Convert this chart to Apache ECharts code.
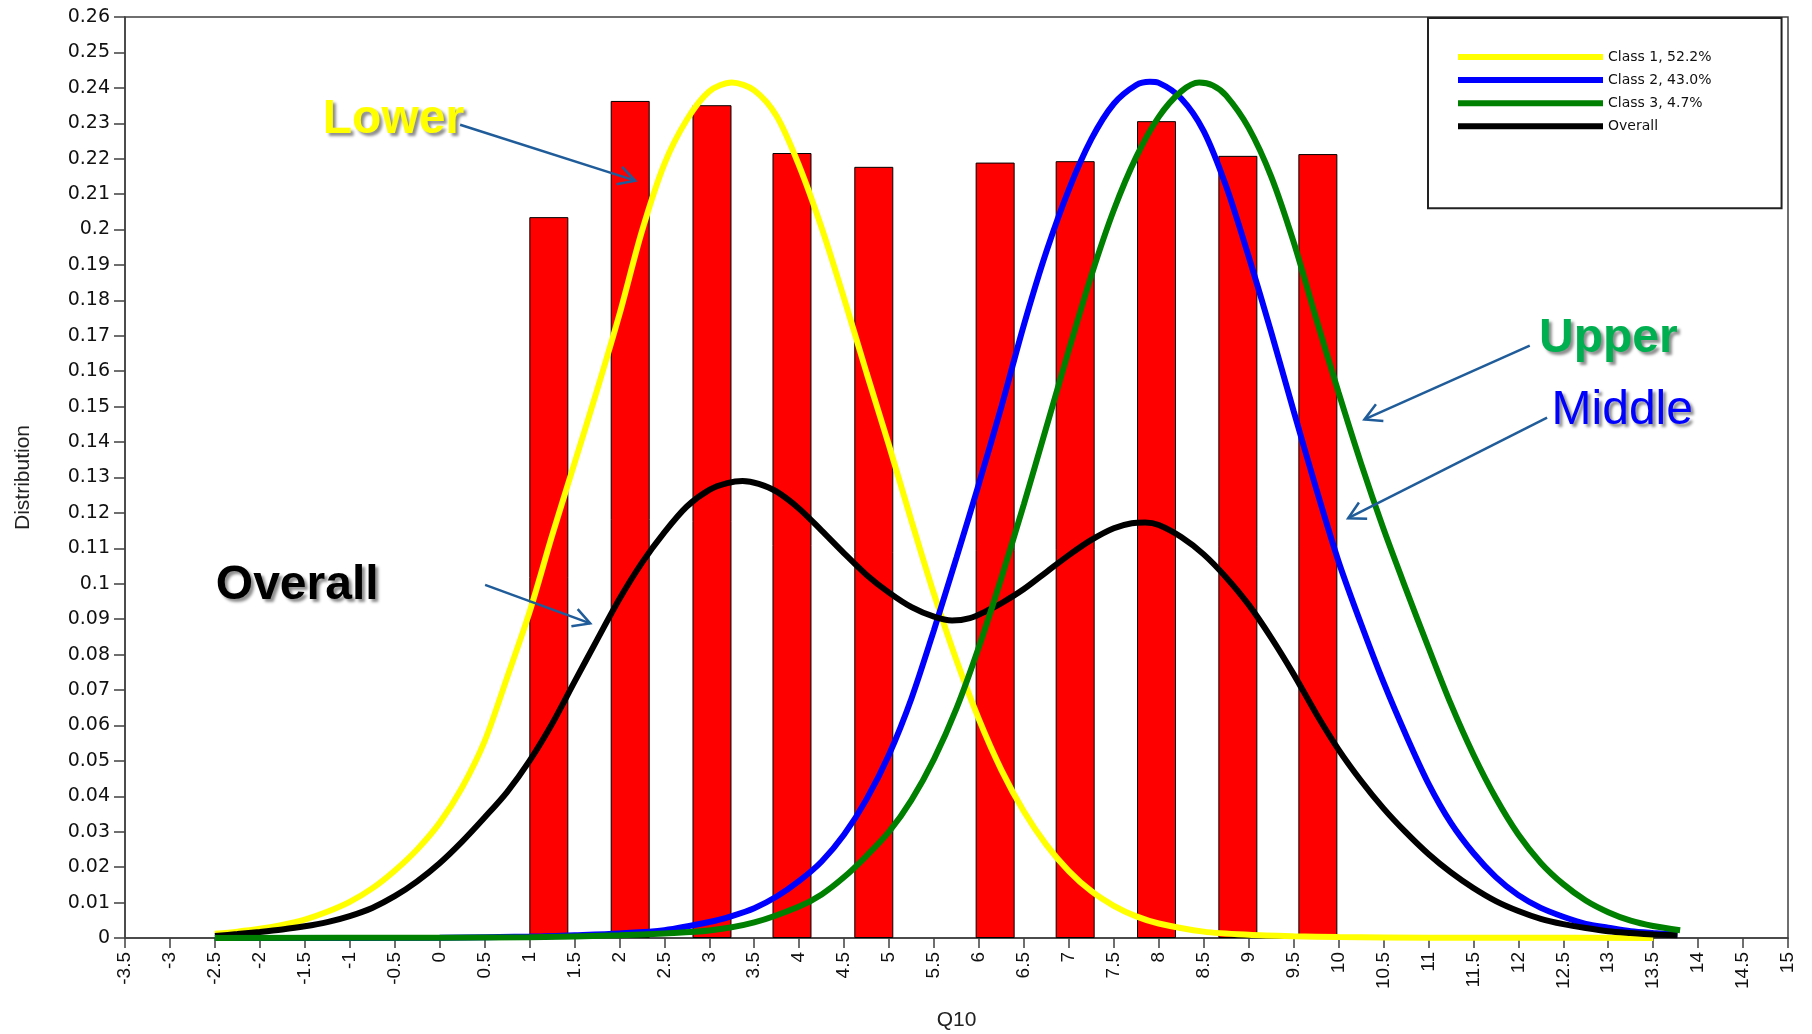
<!DOCTYPE html>
<html><head><meta charset="utf-8">
<script src="https://cdn.jsdelivr.net/npm/echarts@6/dist/echarts.min.js"></script>
<style>html,body{margin:0;padding:0;background:#fff}#c{width:1812px;height:1034px}</style>
</head><body><div id="c"></div>
<script>
// ---- data ----
const barX = [1.215, 2.12, 3.03, 3.92, 4.83, 6.18, 7.07, 7.975, 8.88, 9.77];
const barY = [0.2035, 0.2363, 0.2351, 0.2216, 0.2177, 0.2189, 0.2193, 0.2306, 0.2208, 0.2213];

const class1X = [-2.5, -2.25, -2.0, -1.75, -1.5, -1.25, -1.0, -0.75, -0.5, -0.25, 0.0, 0.25, 0.5, 0.75, 1.0, 1.25, 1.5, 1.75, 2.0, 2.25, 2.5, 2.75, 3.0, 3.25, 3.5, 3.75, 4.0, 4.25, 4.5, 4.75, 5.0, 5.25, 5.5, 5.75, 6.0, 6.25, 6.5, 6.75, 7.0, 7.25, 7.5, 7.75, 8.0, 8.5, 9.0, 9.5, 10.0, 11.0, 12.0, 13.5];
const class1Y = [0.0012, 0.0018, 0.0026, 0.0037, 0.0052, 0.0074, 0.0102, 0.014, 0.019, 0.025, 0.0325, 0.0425, 0.0555, 0.0735, 0.092, 0.1135, 0.134, 0.1545, 0.176, 0.1995, 0.2185, 0.231, 0.239, 0.2415, 0.2393, 0.232, 0.218, 0.2005, 0.1805, 0.1595, 0.139, 0.1177, 0.0971, 0.0784, 0.0617, 0.0474, 0.0357, 0.0263, 0.0189, 0.0132, 0.0091, 0.0061, 0.0041, 0.0018, 0.0009, 0.0005, 0.0003, 0.0001, 0.0001, 0];

const class2X = [-2.5, 0.0, 1.0, 1.5, 2.0, 2.5, 3.0, 3.25, 3.5, 3.75, 4.0, 4.25, 4.5, 4.75, 5.0, 5.25, 5.5, 5.75, 6.0, 6.25, 6.5, 6.75, 7.0, 7.25, 7.5, 7.75, 7.9, 8.0, 8.25, 8.5, 8.75, 9.0, 9.25, 9.5, 9.75, 10.0, 10.25, 10.5, 10.75, 11.0, 11.25, 11.5, 11.75, 12.0, 12.25, 12.5, 12.75, 13.0, 13.25, 13.5, 13.77];
const class2Y = [0, 0.0001, 0.0004, 0.0008, 0.0013, 0.0022, 0.0045, 0.0062, 0.0084, 0.0117, 0.0161, 0.0216, 0.0292, 0.0392, 0.0518, 0.0677, 0.087, 0.1074, 0.1283, 0.15, 0.1731, 0.1938, 0.2113, 0.2255, 0.2355, 0.2408, 0.2417, 0.2414, 0.237, 0.2278, 0.2122, 0.1924, 0.1711, 0.1488, 0.127, 0.1063, 0.0887, 0.0722, 0.0573, 0.0436, 0.0325, 0.024, 0.0172, 0.0121, 0.0085, 0.006, 0.004, 0.0029, 0.0019, 0.0014, 0.001];

const class3X = [-2.5, 0.0, 1.0, 2.0, 2.5, 3.0, 3.5, 4.0, 4.25, 4.5, 4.75, 5.0, 5.25, 5.5, 5.75, 6.0, 6.25, 6.5, 6.75, 7.0, 7.25, 7.5, 7.75, 8.0, 8.25, 8.45, 8.6, 8.75, 9.0, 9.25, 9.5, 9.75, 10.0, 10.25, 10.5, 10.75, 11.0, 11.25, 11.5, 11.75, 12.0, 12.25, 12.5, 12.75, 13.0, 13.25, 13.5, 13.8];
const class3Y = [0, 0.0001, 0.0002, 0.0008, 0.0013, 0.0021, 0.0044, 0.0089, 0.0123, 0.0172, 0.0232, 0.03, 0.039, 0.0505, 0.0648, 0.0822, 0.1017, 0.1225, 0.1442, 0.166, 0.187, 0.2055, 0.2205, 0.2318, 0.239, 0.2415, 0.2407, 0.2378, 0.2287, 0.215, 0.1965, 0.175, 0.154, 0.134, 0.1155, 0.0985, 0.082, 0.066, 0.0518, 0.0395, 0.0292, 0.0212, 0.0152, 0.0106, 0.0073, 0.0049, 0.0034, 0.0022];

const overallX = [-2.5, -2.25, -2.0, -1.75, -1.5, -1.25, -1.0, -0.75, -0.5, -0.25, 0.0, 0.25, 0.5, 0.75, 1.0, 1.25, 1.5, 1.75, 2.0, 2.25, 2.5, 2.75, 3.0, 3.2, 3.37, 3.55, 3.75, 4.0, 4.25, 4.5, 4.75, 5.0, 5.25, 5.5, 5.7, 5.9, 6.1, 6.25, 6.5, 6.75, 7.0, 7.25, 7.5, 7.7, 7.85, 8.0, 8.25, 8.5, 8.75, 9.0, 9.25, 9.5, 9.75, 10.0, 10.25, 10.5, 10.75, 11.0, 11.25, 11.5, 11.75, 12.0, 12.25, 12.5, 12.75, 13.0, 13.25, 13.5, 13.77];
const overallY = [0.0006, 0.0011, 0.0017, 0.0024, 0.0033, 0.0045, 0.0062, 0.0085, 0.0118, 0.016, 0.0211, 0.0272, 0.034, 0.0412, 0.05, 0.0604, 0.0723, 0.0841, 0.0957, 0.1059, 0.1145, 0.1218, 0.1265, 0.1284, 0.129, 0.1282, 0.126, 0.1212, 0.115, 0.1086, 0.1025, 0.0975, 0.0934, 0.0907, 0.0896, 0.0903, 0.0925, 0.0945, 0.0985, 0.1033, 0.1081, 0.1124, 0.1157, 0.1171, 0.1173, 0.1166, 0.1132, 0.1083, 0.1018, 0.0941, 0.0848, 0.0745, 0.0634, 0.0532, 0.0444, 0.0366, 0.0298, 0.0237, 0.0185, 0.0141, 0.0104, 0.0076, 0.0054, 0.0039, 0.0028, 0.0019, 0.0014, 0.001, 0.0008];

const seriesNames = ['Class 1, 52.2%', 'Class 2, 43.0%', 'Class 3, 4.7%', 'Overall'];
const xAxisName = 'Q10';
const yAxisName = 'Distribution';

// annotation texts and arrows (data coordinates of the plot)
const annoTexts = ['Lower', 'Overall', 'Upper', 'Middle'];
const annoTextPos = [[-1.30, 0.2311], [-2.49, 0.0993], [12.23, 0.1692], [12.37, 0.1487]];
const annoArrowFrom = [[0.228, 0.2296], [0.506, 0.0997], [12.127, 0.1672], [12.32, 0.1469]];
const annoArrowTo = [[2.176, 0.2138], [1.675, 0.0888], [10.288, 0.1464], [10.107, 0.1185]];
// ---- end data ----

const zip = (xs, ys) => xs.map((x, i) => [x, ys[i]]);
const colors = ['#ffff00', '#0000ff', '#008000', '#000000'];
const zOrder = [3, 4, 6, 5];
const curveData = [zip(class1X, class1Y), zip(class2X, class2Y), zip(class3X, class3Y), zip(overallX, overallY)];

const chart = echarts.init(document.getElementById('c'), null, {renderer: 'canvas'});
const axisColor = '#404040';
const tickFont = 'DejaVu Sans';

const option = {
  animation: false,
  backgroundColor: '#ffffff',
  grid: {left: 125, top: 17, right: 24, bottom: 96, show: true, borderColor: axisColor, borderWidth: 1.5, containLabel: false, outerBoundsMode: 'none'},
  legend: {
    data: seriesNames,
    orient: 'vertical',
    left: 1428, top: 18,
    padding: [32, 70, 75, 30],
    borderColor: '#222', borderWidth: 2,
    icon: 'rect', itemWidth: 145, itemHeight: 6, itemGap: 9.1,
    selectedMode: false,
    itemStyle: {borderWidth: 0},
    textStyle: {fontFamily: tickFont, fontSize: 14, color: '#111', lineHeight: 14}
  },
  xAxis: {
    type: 'value', min: -3.5, max: 15, interval: 0.5,
    name: xAxisName, nameLocation: 'middle', nameGap: 72,
    nameTextStyle: {fontFamily: 'Liberation Sans', fontSize: 21, color: '#222'},
    axisLine: {lineStyle: {color: axisColor, width: 1.5}},
    axisTick: {show: true, length: 10, lineStyle: {color: axisColor, width: 1.5}},
    axisLabel: {rotate: 90, margin: 14, fontFamily: 'Liberation Sans', fontSize: 19, color: '#111', showMinLabel: true, showMaxLabel: true, hideOverlap: false},
    splitLine: {show: false}
  },
  yAxis: {
    type: 'value', min: 0, max: 0.26, interval: 0.01,
    name: yAxisName, nameLocation: 'middle', nameGap: 91, nameRotate: 90,
    nameTextStyle: {fontFamily: 'Liberation Sans', fontSize: 21, color: '#222'},
    axisLine: {show: true, onZero: false, lineStyle: {color: axisColor, width: 1.5}},
    axisTick: {show: true, length: 11, lineStyle: {color: axisColor, width: 1.5}},
    axisLabel: {margin: 15, fontFamily: tickFont, fontSize: 19, color: '#111', showMinLabel: true, showMaxLabel: true},
    splitLine: {show: false}
  },
  series: [
    {
      type: 'bar', name: 'Observed', data: zip(barX, barY), barWidth: 39, z: 2,
      itemStyle: {color: '#ff0000', borderColor: '#000', borderWidth: 1}
    }
  ].concat(seriesNames.map((n, i) => ({
    type: 'line', name: n, data: curveData[i], smooth: 0.3, showSymbol: false, symbol: 'none', z: zOrder[i],
    itemStyle: {color: colors[i]},
    lineStyle: {color: colors[i], width: 6}
  })))
};
chart.setOption(option);

// annotations, positioned through the chart's own coordinate system
const annoColors = ['#ffff00', '#000000', '#00b050', '#0000ff'];
const annoWeights = ['bold', 'bold', 'bold', 'normal'];
const arrowColor = '#1f5c99';
const toPx = p => chart.convertToPixel({gridIndex: 0}, p);
const graphics = [];
annoTexts.forEach((t, i) => {
  const p = toPx(annoTextPos[i]);
  graphics.push({
    type: 'text', x: p[0], y: p[1], z: 100,
    style: {
      text: t, fill: annoColors[i],
      font: annoWeights[i] + ' 48px "Liberation Sans"',
      textAlign: 'left', textVerticalAlign: 'middle', verticalAlign: 'middle',
      textShadowColor: 'rgba(0,0,0,0.45)', textShadowBlur: 3, textShadowOffsetX: 3, textShadowOffsetY: 3
    }
  });
  const a = toPx(annoArrowFrom[i]);
  const b = toPx(annoArrowTo[i]);
  const ang = Math.atan2(b[1] - a[1], b[0] - a[0]);
  const L = 19, spread = 0.5;
  const h1 = [b[0] - L * Math.cos(ang - spread), b[1] - L * Math.sin(ang - spread)];
  const h2 = [b[0] - L * Math.cos(ang + spread), b[1] - L * Math.sin(ang + spread)];
  graphics.push({type: 'line', z: 100, shape: {x1: a[0], y1: a[1], x2: b[0], y2: b[1]}, style: {stroke: arrowColor, lineWidth: 2.5}});
  graphics.push({type: 'polyline', z: 100, shape: {points: [h1, b, h2]}, style: {stroke: arrowColor, lineWidth: 2.5, fill: null}});
});
chart.setOption({graphic: graphics});
</script>
</body></html>
